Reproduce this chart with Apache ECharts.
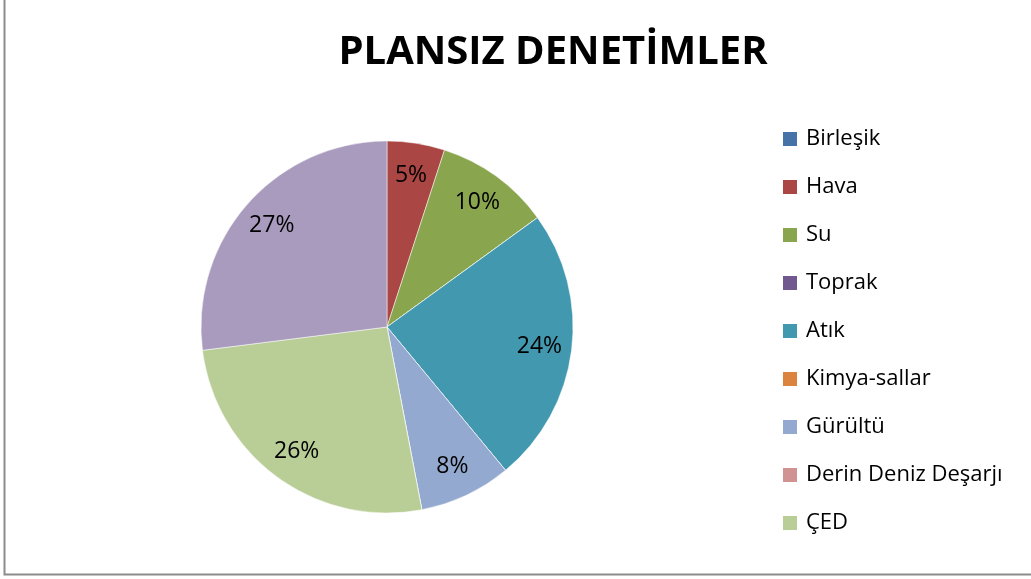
<!DOCTYPE html>
<html lang="tr">
<head>
  <meta charset="UTF-8">
  <title>Plansız Denetimler</title>
  <script src="https://cdn.jsdelivr.net/npm/echarts@6/dist/echarts.min.js"></script>
  <style>
    * {
      margin: 0;
      padding: 0
    }

    html, body {
      width: 100%;
      height: 100%;
      background: #fff;
    }

    #main {
      width: 1031px;
      height: 579px;
    }
  </style>
</head>
<body>
  <div id="main"></div>
</body>
<script type="text/javascript">
  // kategoriler (son dilim lejantta görünmüyor)
  var categories = ['Birleşik', 'Hava', 'Su', 'Toprak', 'Atık', 'Kimya-sallar', 'Gürültü', 'Derin Deniz Deşarjı', 'ÇED', 'Diğer'];
  var values = [0, 5, 10, 0, 24, 0, 8, 0, 26, 27];
  var legendNames = categories.slice(0, 9);
  var colors = ['#4572A7', '#AA4643', '#89A54E', '#71588F', '#4198AF', '#DB843D', '#93A9CF', '#D19392', '#B9CD96', '#A99BBD'];

  var pieData = [];
  for (var i = 0; i < categories.length; i++) {
    pieData.push({name: categories[i], value: values[i]});
  }

  var font = 'Open Sans';
  var center = [387, 327];
  var r = 186;

  var myChart = echarts.init(document.getElementById('main'));
  myChart.setOption({
    color: colors,
    animation: false,
    title: {
      text: 'PLANSIZ DENETİMLER',
      left: 548,
      top: 28,
      textAlign: 'center',
      textStyle: {
        fontFamily: font,
        fontSize: 40,
        fontWeight: 'bold',
        color: '#000'
      }
    },
    legend: {
      orient: 'vertical',
      left: 776,
      top: 123,
      data: legendNames,
      icon: 'rect',
      itemWidth: 16,
      itemHeight: 16,
      itemGap: 26,
      textStyle: {
        fontFamily: font,
        fontSize: 22,
        lineHeight: 20,
        color: '#000',
        padding: [0, 0, 0, 3]
      }
    },
    graphic: [{
      type: 'rect',
      shape: {x: 4.5, y: -5, width: 1040, height: 579.5},
      style: {fill: null, stroke: '#8c8c8c', lineWidth: 2},
      silent: true
    }],
    series: [
      {
        type: 'pie',
        center: center,
        radius: r,
        startAngle: 90,
        clockwise: true,
        label: {show: false},
        labelLine: {show: false},
        itemStyle: {borderColor: '#fff', borderWidth: 0.5},
        emphasis: {disabled: true},
        data: pieData
      },
      {
        // sadece etiketler için şeffaf halka
        type: 'pie',
        center: center,
        radius: [r * 0.62, r],
        startAngle: 90,
        clockwise: true,
        silent: true,
        itemStyle: {color: 'rgba(0,0,0,0)'},
        labelLine: {show: false},
        label: {
          show: true,
          position: 'inside',
          fontFamily: font,
          fontSize: 23,
          color: '#000',
          formatter: function (p) {
            return p.value > 0 ? p.value + '%' : '';
          }
        },
        emphasis: {disabled: true},
        data: pieData
      }
    ]
  });
</script>
</html>
